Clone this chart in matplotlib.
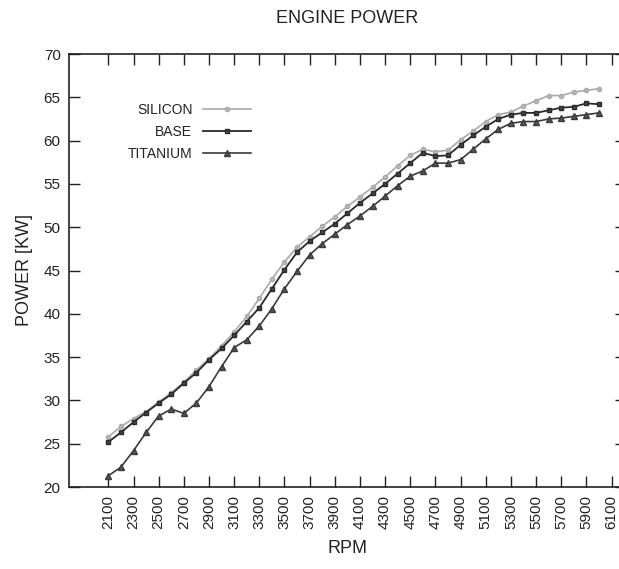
import matplotlib
matplotlib.use("Agg")
import matplotlib.pyplot as plt

rpm = [2100, 2200, 2300, 2400, 2500, 2600, 2700, 2800, 2900, 3000,
       3100, 3200, 3300, 3400, 3500, 3600, 3700, 3800, 3900, 4000,
       4100, 4200, 4300, 4400, 4500, 4600, 4700, 4800, 4900, 5000,
       5100, 5200, 5300, 5400, 5500, 5600, 5700, 5800, 5900, 6000]

silicon = [25.8, 27.0, 27.9, 28.7, 29.8, 30.9, 32.1, 33.5, 34.8, 36.3,
           37.9, 39.7, 41.8, 44.0, 46.0, 47.7, 48.9, 50.1, 51.2, 52.4,
           53.5, 54.6, 55.8, 57.1, 58.3, 59.0, 58.7, 58.9, 60.1, 61.1,
           62.2, 63.0, 63.3, 64.0, 64.6, 65.2, 65.2, 65.6, 65.8, 66.0]

base = [25.2, 26.3, 27.5, 28.6, 29.7, 30.7, 32.0, 33.2, 34.7, 36.0,
        37.5, 39.1, 40.7, 42.9, 45.1, 47.1, 48.4, 49.4, 50.4, 51.6,
        52.8, 53.9, 55.0, 56.2, 57.4, 58.6, 58.2, 58.3, 59.5, 60.6,
        61.6, 62.5, 63.0, 63.2, 63.2, 63.5, 63.8, 63.9, 64.3, 64.2]

titanium = [21.3, 22.3, 24.2, 26.3, 28.2, 29.0, 28.5, 29.7, 31.6, 33.9,
            36.1, 37.0, 38.6, 40.6, 42.9, 44.9, 46.8, 48.1, 49.2, 50.3,
            51.3, 52.4, 53.6, 54.8, 55.9, 56.5, 57.4, 57.4, 57.8, 59.0,
            60.2, 61.3, 62.0, 62.2, 62.2, 62.5, 62.6, 62.8, 63.0, 63.2]

xticks = [2100, 2300, 2500, 2700, 2900, 3100, 3300, 3500, 3700, 3900, 4100,
          4300, 4500, 4700, 4900, 5100, 5300, 5500, 5700, 5900, 6100]
yticks = [20, 25, 30, 35, 40, 45, 50, 55, 60, 65, 70]

plt.rcParams['font.family'] = ['Liberation Sans', 'DejaVu Sans']

fig = plt.figure(figsize=(6.19, 5.69), dpi=100)
ax = fig.add_axes([69/619, 82/569, (626-69)/619, (487-54)/569])

ax.plot(rpm, silicon, color='#aaaaaa', lw=1.2, marker='o', ms=3.0,
        mfc='#b8b8b8', mec='#aaaaaa', label='SILICON')
ax.plot(rpm, base, color='#2a2a2a', lw=1.3, marker='s', ms=2.4,
        mfc='#444444', mec='#2a2a2a', label='BASE')
ax.plot(rpm, titanium, color='#3a3a3a', lw=1.2, marker='^', ms=4.2,
        mfc='#555555', mec='#3a3a3a', label='TITANIUM')

ax.set_xlim(1787, 6215)
ax.set_ylim(20, 70)
ax.set_xticks(xticks)
ax.set_xticklabels([str(t) for t in xticks], rotation=90)
ax.set_yticks(yticks)
ax.tick_params(direction='in', length=8, width=1.0, top=True, right=True,
               labelsize=11, colors='#222222', pad=6)
for sp in ax.spines.values():
    sp.set_linewidth(1.2)
    sp.set_color('#222222')

ax.set_title('ENGINE POWER', fontsize=13, color='#222222', pad=22)
ax.set_xlabel('RPM', fontsize=13, color='#222222', labelpad=8)
ax.set_ylabel('POWER [KW]', fontsize=13, color='#222222', labelpad=8)

leg = ax.legend(loc='upper left', bbox_to_anchor=(0.088, 0.91), frameon=False,
                markerfirst=False, fontsize=10, handlelength=3.5,
                handletextpad=0.75, labelspacing=0.6, borderpad=0.2)
for t in leg.get_texts():
    t.set_color('#222222')
for col in leg._legend_handle_box.get_children():
    col.align = 'right'

fig.savefig('out.png', dpi=100)
